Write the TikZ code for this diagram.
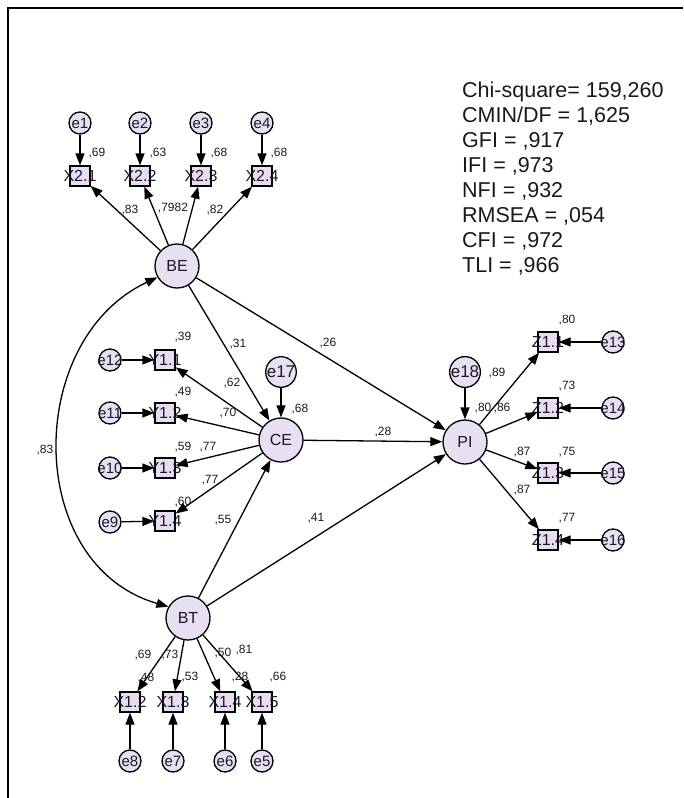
\documentclass[tikz,border=0pt]{standalone}
\usepackage{fontspec}
\setmainfont{Liberation Sans}
\usetikzlibrary{arrows.meta}
\definecolor{lav}{RGB}{232,223,242}
\definecolor{boxc}{RGB}{234,220,240}
\definecolor{txt}{RGB}{25,25,40}
\begin{document}
\begin{tikzpicture}[x=1pt,y=-1pt,
  lat/.style={circle,draw,line width=1.3pt,fill=lav,minimum size=44pt,inner sep=0pt,font=\fontsize{16}{16}\selectfont,text=txt},
  errs/.style={circle,draw,line width=1.3pt,fill=lav,minimum size=22pt,inner sep=0pt},
  errl/.style={circle,draw,line width=1.3pt,fill=lav,minimum size=30pt,inner sep=0pt,font=\fontsize{17}{17}\selectfont,text=txt},
  etext/.style={font=\fontsize{15}{15}\selectfont,text=txt,inner sep=0pt},
  obs/.style={draw,line width=1.3pt,fill=boxc,minimum size=20pt,inner sep=0pt},
  otext/.style={font=\fontsize{16}{16}\selectfont,text=txt,inner sep=0pt},
  coef/.style={font=\fontsize{12}{12}\selectfont,text=txt,inner sep=0pt},
  arr/.style={-{Triangle[length=12pt,width=9pt]},line width=1.3pt},
  darr/.style={{Triangle[length=12pt,width=9pt]}-{Triangle[length=12pt,width=9pt]},line width=1.3pt},
]
\useasboundingbox (0,0) rectangle (683,798);
\draw[line width=1.8pt] (8,798) -- (8,8) -- (683,8);

% latent
\node[lat] (BE) at (177,266) {BE};
\node[lat] (CE) at (281,440) {CE};
\node[lat] (PI) at (465,442) {PI};
\node[lat] (BT) at (188,618) {BT};
\node[errl] (e17) at (281,372) {e17};
\node[errl] (e18) at (465,372) {e18};

% X2 indicators
\node[obs,label={[otext]center:X2.1}] (X21) at (80,176) {};
\node[obs,label={[otext]center:X2.2}] (X22) at (140,176) {};
\node[obs,label={[otext]center:X2.3}] (X23) at (201,176) {};
\node[obs,label={[otext]center:X2.4}] (X24) at (262,176) {};
\node[errs,label={[etext]center:e1}] (e1) at (80,123) {};
\node[errs,label={[etext]center:e2}] (e2) at (140,123) {};
\node[errs,label={[etext]center:e3}] (e3) at (201,123) {};
\node[errs,label={[etext]center:e4}] (e4) at (262,123) {};

% Y1 indicators
\node[obs,label={[otext]center:Y1.1}] (Y11) at (165,360) {};
\node[obs,label={[otext]center:Y1.2}] (Y12) at (165,413) {};
\node[obs,label={[otext]center:Y1.3}] (Y13) at (165,468) {};
\node[obs,label={[otext]center:Y1.4}] (Y14) at (165,521) {};
\node[errs,label={[etext]center:e12}] (e12) at (110,360) {};
\node[errs,label={[etext]center:e11}] (e11) at (110,413) {};
\node[errs,label={[etext]center:e10}] (e10) at (110,468) {};
\node[errs,label={[etext]center:e9}] (e9) at (110,522) {};

% Z1 indicators
\node[obs,label={[otext]center:Z1.1}] (Z11) at (548,342) {};
\node[obs,label={[otext]center:Z1.2}] (Z12) at (548,408) {};
\node[obs,label={[otext]center:Z1.3}] (Z13) at (548,473) {};
\node[obs,label={[otext]center:Z1.4}] (Z14) at (548,540) {};
\node[errs,label={[etext]center:e13}] (e13) at (613,342) {};
\node[errs,label={[etext]center:e14}] (e14) at (613,408) {};
\node[errs,label={[etext]center:e15}] (e15) at (613,473) {};
\node[errs,label={[etext]center:e16}] (e16) at (613,540) {};

% X1 indicators
\node[obs,label={[otext]center:X1.2}] (X12) at (130,702) {};
\node[obs,label={[otext]center:X1.3}] (X13) at (173,702) {};
\node[obs,label={[otext]center:X1.4}] (X14) at (225,702) {};
\node[obs,label={[otext]center:X1.5}] (X15) at (262,702) {};
\node[errs,label={[etext]center:e8}] (e8) at (130,761) {};
\node[errs,label={[etext]center:e7}] (e7) at (173,761) {};
\node[errs,label={[etext]center:e6}] (e6) at (225,761) {};
\node[errs,label={[etext]center:e5}] (e5) at (262,761) {};

% arrows
\foreach \e/\x in {e1/X21,e2/X22,e3/X23,e4/X24,e12/Y11,e11/Y12,e10/Y13,e9/Y14,e13/Z11,e14/Z12,e15/Z13,e16/Z14,e8/X12,e7/X13,e6/X14,e5/X15}
  \draw[arr] (\e) -- (\x);
\foreach \x in {X21,X22,X23,X24} \draw[arr] (BE) -- (\x);
\foreach \x in {Y11,Y12,Y13,Y14} \draw[arr] (CE) -- (\x);
\foreach \x in {Z11,Z12,Z13,Z14} \draw[arr] (PI) -- (\x);
\foreach \x in {X12,X13,X14,X15} \draw[arr] (BT) -- (\x);
\draw[arr] (BE) -- (CE);
\draw[arr] (BE) -- (PI);
\draw[arr] (BT) -- (CE);
\draw[arr] (BT) -- (PI);
\draw[arr] (CE) -- (PI);
\draw[arr] (e17) -- (CE);
\draw[arr] (e18) -- (PI);
\draw[darr] (BE.210) .. controls (24,340) and (24,565) .. (BT.150);

% coefficients
\node[coef] (c1) at (97,153) {,69};
\node[coef] (c2) at (158,153) {,63};
\node[coef] (c3) at (219,153) {,68};
\node[coef] (c4) at (279,153) {,68};
\node[coef] (c5) at (130,210) {,83};
\node[coef] (c6) at (173,208) {,7982};
\node[coef] (c7) at (215,210) {,82};
\node[coef] (c8) at (183,337) {,39};
\node[coef] (c9) at (183,392) {,49};
\node[coef] (c10) at (183,447) {,59};
\node[coef] (c11) at (183,502) {,60};
\node[coef] (c12) at (232,383) {,62};
\node[coef] (c13) at (228,413) {,70};
\node[coef] (c14) at (208,447) {,77};
\node[coef] (c15) at (210,480) {,77};
\node[coef] (c16) at (223,520) {,55};
\node[coef] (c17) at (238,344) {,31};
\node[coef] (c18) at (328,343) {,26};
\node[coef] (c19) at (300,409) {,68};
\node[coef] (c20) at (383,432) {,28};
\node[coef] (c21) at (316,518) {,41};
\node[coef] (c22) at (45,450) {,83};
\node[coef] (c23) at (497,373) {,89};
\node[coef] (c24) at (483,408) {,80};
\node[coef] (c25) at (502,408) {,86};
\node[coef] (c26) at (522,452) {,87};
\node[coef] (c27) at (522,490) {,87};
\node[coef] (c28) at (567,320) {,80};
\node[coef] (c29) at (567,386) {,73};
\node[coef] (c30) at (567,452) {,75};
\node[coef] (c31) at (567,518) {,77};
\node[coef] (c32) at (143,655) {,69};
\node[coef] (c33) at (170,655) {,73};
\node[coef] (c34) at (146,678) {,48};
\node[coef] (c35) at (190,677) {,53};
\node[coef] (c36) at (223,653) {,50};
\node[coef] (c37) at (244,650) {,81};
\node[coef] (c38) at (240,677) {,28};
\node[coef] (c39) at (278,677) {,66};

% fit indices
\node[anchor=north west,align=left,inner sep=0pt,font=\fontsize{21.5}{25}\selectfont,text=black!90] (stats) at (462,82)
 {Chi-square= 159,260\\CMIN/DF = 1,625\\GFI = ,917\\IFI = ,973\\NFI = ,932\\RMSEA = ,054\\CFI = ,972\\TLI = ,966};
\end{tikzpicture}
\end{document}
